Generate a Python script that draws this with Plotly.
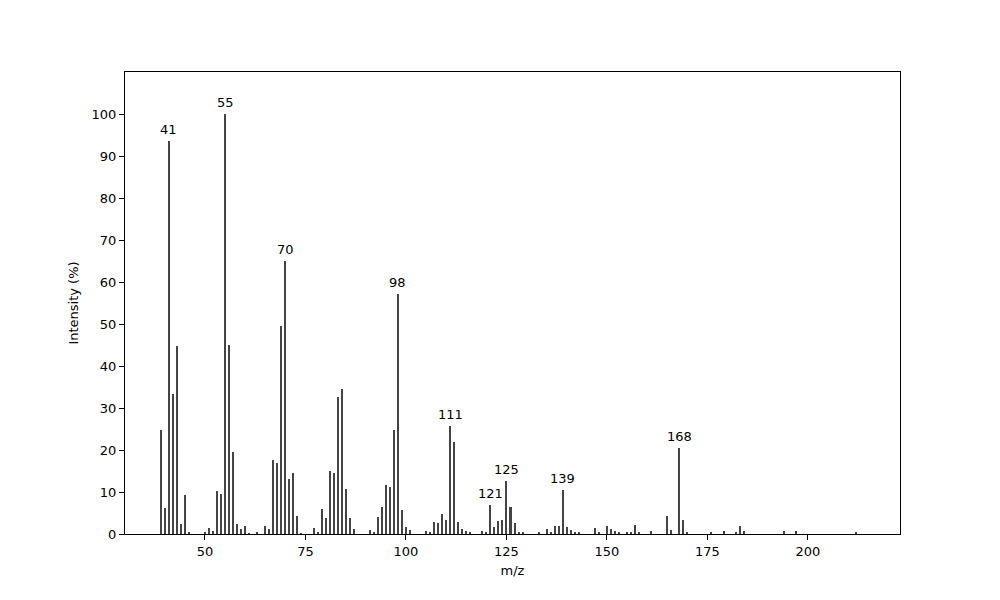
import plotly.graph_objects as go

mz = [39, 40, 41, 42, 43, 44, 45, 46,
      50, 51, 52, 53, 54, 55, 56, 57, 58, 59, 60, 61, 63,
      65, 66, 67, 68, 69, 70, 71, 72, 73, 74,
      77, 78, 79, 80, 81, 82, 83, 84, 85, 86, 87,
      91, 92, 93, 94, 95, 96, 97, 98, 99, 100, 101,
      105, 106, 107, 108, 109, 110, 111, 112, 113, 114, 115, 116,
      119, 120, 121, 122, 123, 124, 125, 126, 127, 128, 129,
      133, 135, 136, 137, 138, 139, 140, 141, 142, 143,
      147, 148, 150, 151, 152, 153, 155, 156, 157, 158, 161,
      165, 166, 168, 169, 170,
      176, 179, 182, 183, 184, 194, 197, 212]
intensity = [24.8, 6.3, 93.6, 33.3, 44.8, 2.4, 9.3, 0.3,
             0.5, 1.4, 0.7, 10.2, 9.5, 100.0, 45.0, 19.6, 2.4, 1.2, 1.9, 0.2, 0.24,
             2.0, 1.2, 17.7, 17.0, 49.5, 65.0, 13.2, 14.5, 4.4, 0.2,
             1.5, 0.5, 6.0, 3.9, 15.1, 14.5, 32.7, 34.5, 10.8, 3.7, 1.2,
             0.95, 0.24, 4.0, 6.4, 11.7, 11.2, 24.8, 57.1, 5.7, 1.7, 0.95,
             0.7, 0.24, 2.9, 2.6, 4.8, 3.3, 25.7, 21.9, 2.9, 1.2, 0.7, 0.24,
             0.7, 0.5, 6.9, 1.7, 3.1, 3.3, 12.6, 6.4, 2.6, 0.5, 0.24,
             0.5, 1.2, 0.24, 1.9, 1.9, 10.5, 1.7, 0.95, 0.24, 0.24,
             1.4, 0.24, 1.9, 1.2, 0.7, 0.5, 0.24, 0.24, 2.1, 0.24, 0.7,
             4.3, 0.95, 20.5, 3.3, 0.5,
             0.24, 0.7, 0.24, 1.9, 0.7, 0.7, 0.7, 0.24]
labeled_peaks = [41, 55, 70, 98, 111, 121, 125, 139, 168]
x_ticks = [50, 75, 100, 125, 150, 175, 200]
y_ticks = [0, 10, 20, 30, 40, 50, 60, 70, 80, 90, 100]

peak_map = dict(zip(mz, intensity))

fig = go.Figure()
fig.add_trace(go.Bar(
    x=mz, y=intensity, width=0.5,
    marker=dict(color="#444444", line=dict(width=0)),
    showlegend=False, hoverinfo="x+y",
))

for p in labeled_peaks:
    fig.add_annotation(
        x=p, y=peak_map[p], text=str(p), showarrow=False,
        yanchor="bottom", xanchor="center", yshift=2,
        font=dict(family="DejaVu Sans", size=13, color="black"),
    )

axis_common = dict(
    showline=True, linecolor="black", linewidth=1, mirror=True,
    ticks="outside", ticklen=5, tickwidth=1, tickcolor="black",
    showgrid=False, zeroline=False,
    tickfont=dict(family="DejaVu Sans", size=13, color="black"),
)

fig.update_layout(
    width=1000, height=600,
    plot_bgcolor="white", paper_bgcolor="white",
    margin=dict(l=117, r=108, t=64, b=74),
    font=dict(family="DejaVu Sans", size=13, color="black"),
    xaxis=dict(range=[30.1, 222.9], tickvals=x_ticks,
               title=dict(text="m/z", font=dict(size=13), standoff=8),
               **axis_common),
    yaxis=dict(range=[0, 110], tickvals=y_ticks,
               title=dict(text="Intensity (%)", font=dict(size=13), standoff=10),
               **axis_common),
    bargap=0,
)

fig.write_html("out.html")
